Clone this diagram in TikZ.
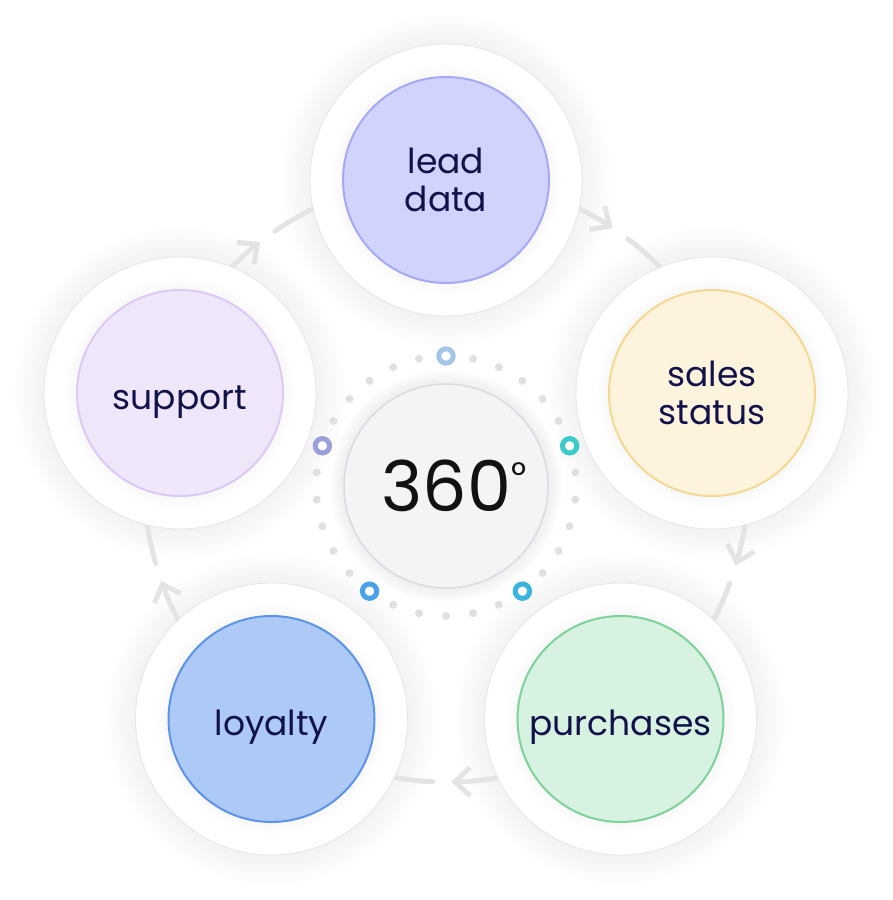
\documentclass[tikz,border=0pt]{standalone}
\usepackage{fontspec}
\setmainfont{Poppins}
\usetikzlibrary{arrows.meta}

\definecolor{ink}{HTML}{12124A}
\definecolor{flowgray}{HTML}{E4E4E6}
\definecolor{dotgray}{HTML}{E0E0E2}
\definecolor{ringline}{HTML}{E6E6EA}
\definecolor{hubfill}{HTML}{F3F4F6}
\definecolor{hubline}{HTML}{D9DBE0}
\definecolor{leadfill}{HTML}{D0D3FB}
\definecolor{leadline}{HTML}{A6AAF6}
\definecolor{salesfill}{HTML}{FEF3DC}
\definecolor{salesline}{HTML}{F5D993}
\definecolor{buyfill}{HTML}{D7F2E0}
\definecolor{buyline}{HTML}{7DD39A}
\definecolor{loyalfill}{HTML}{ADC9F5}
\definecolor{loyalline}{HTML}{5D94E8}
\definecolor{helpfill}{HTML}{EFE6FA}
\definecolor{helpline}{HTML}{DCC9F5}

\pgfdeclarelayer{bg}
\pgfsetlayers{bg,main}

\begin{document}
\begin{tikzpicture}[x=1pt, y=1pt, >={Straight Barb[length=15pt,width=28pt]},
    ring/.style={circle, draw=ringline, line width=0.8pt, fill=white, minimum size=272pt, inner sep=0pt},
    topic/.style={circle, line width=2pt, minimum size=206pt, inner sep=0pt, text=ink, align=center,
        font=\fontsize{34.5}{38}\selectfont},
    oneline/.style={text height=34pt, text depth=0pt},
    flow/.style={draw=flowgray, line width=5pt, line cap=round},
    knot/.style={line width=5pt, fill=white}]
    \useasboundingbox (0,0) rectangle (893,900);

    \node[ring] (leadring) at (446,720) {};
    \node[ring] (salesring) at (712,507) {};
    \node[ring] (buyring) at (620.5,181) {};
    \node[ring] (loyalring) at (271.5,181) {};
    \node[ring] (helpring) at (180,507) {};

    \foreach \n in {leadring,salesring,buyring,loyalring,helpring}
        \foreach \k in {1,...,7}
            \fill[black, opacity=0.005] (\n.center) circle[radius=103+1.8*\k];

    \node[topic, fill=leadfill, draw=leadline] (lead) at (leadring) {lead\\data};
    \node[topic, fill=salesfill, draw=salesline] (sales) at (salesring) {sales\\status};
    \node[topic, oneline, fill=buyfill, draw=buyline] (buy) at (buyring) {purchases};
    \node[topic, oneline, fill=loyalfill, draw=loyalline] (loyal) at (loyalring) {loyalty};
    \node[topic, oneline, fill=helpfill, draw=helpline] (help) at (helpring) {support};

    \node[circle, draw=hubline, line width=1.5pt, fill=hubfill, minimum size=204pt, inner sep=0pt,
        font=\fontsize{70}{74}\selectfont, text=black!93] (hub) at (446,414)
        {\hspace*{16pt}360\raisebox{23pt}{\fontsize{37}{37}\selectfont °}};

    \foreach \s in {0,...,4}
        \foreach \j in {1,...,5}
            \fill[dotgray] (hub.center) ++(90-72*\s-12*\j:130) circle[radius=4];

    \draw[knot, draw={rgb,255:red,163;green,197;blue,230}] (hub.center) ++(90:130) circle[radius=7.2];
    \draw[knot, draw={rgb,255:red,61;green,202;blue,203}] (hub.center) ++(18:130) circle[radius=7.2];
    \draw[knot, draw={rgb,255:red,56;green,180;blue,222}] (hub.center) ++(-54:130) circle[radius=7.2];
    \draw[knot, draw={rgb,255:red,74;green,162;blue,234}] (hub.center) ++(-126:130) circle[radius=7.2];
    \draw[knot, draw={rgb,255:red,155;green,159;blue,218}] (hub.center) ++(162:130) circle[radius=7.2];

    \coordinate (orbit) at (446,420);

    \begin{pgfonlayer}{bg}
        \foreach \n in {leadring,salesring,buyring,loyalring,helpring}
            \foreach \k in {1,...,12}
                \fill[black, opacity=0.0045] (\n.center) circle[radius=136+2.5*\k];
        \foreach \k in {1,...,8}
            \fill[black, opacity=0.009] (hub.center) circle[radius=102+1.8*\k];
        \fill[white] (hub.center) circle[radius=100];

        \foreach \a/\t in {80/56.5, 10/-16.5, -70/-89, 215/199.5, 145/128} {
            \draw[flow,->] (orbit) ++(\a:302) arc[start angle=\a, end angle=\t, radius=302];
            \draw[flow] (orbit) ++(\t-3.5:302) arc[start angle=\t-3.5, end angle=\t-27, radius=302];
        }
    \end{pgfonlayer}
\end{tikzpicture}
\end{document}
